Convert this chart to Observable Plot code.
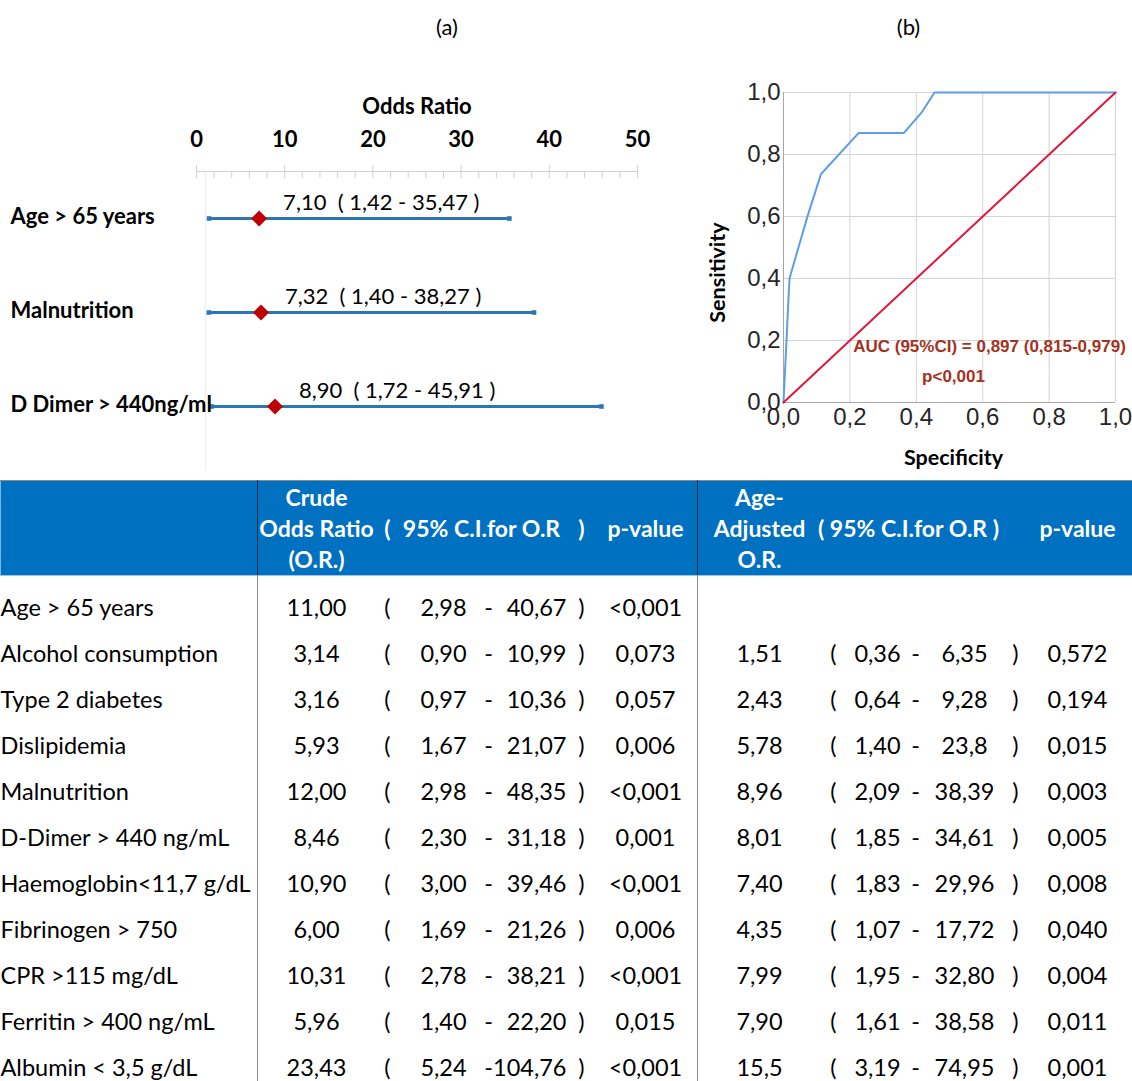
<!DOCTYPE html>
<html><head><meta charset="utf-8">
<script src="https://cdn.jsdelivr.net/npm/d3@7"></script>
<script src="https://cdn.jsdelivr.net/npm/@observablehq/plot@0.6"></script>
<style>
body{margin:0;background:#fff;}
#root{position:relative;width:1132px;height:1081px;overflow:hidden;background:#fff;}
.panel{position:absolute;}
svg text{white-space:pre;}
</style></head><body><div id="root"></div>
<script>
// ---------- DATA ----------
const forestNames = ["Age > 65 years", "Malnutrition", "D Dimer > 440ng/ml"];
const forestOR = [7.10, 7.32, 8.90];
const forestLo = [1.42, 1.40, 1.72];
const forestHi = [35.47, 38.27, 45.91];
const forestTicks = [0, 10, 20, 30, 40, 50];
const forestMinorTicks = [0, 2, 4, 6, 8, 10, 12, 14, 16, 18, 20, 22, 24, 26, 28, 30, 32, 34, 36, 38, 40, 42, 44, 46, 48, 50];
const forestRef = [1];

const rocSpec = [0, 0.018, 0.045, 0.075, 0.113, 0.226, 0.362, 0.417, 0.455, 1];
const rocSens = [0, 0.40, 0.50, 0.61, 0.737, 0.869, 0.869, 0.937, 1, 1];
const rocDiag = [0, 1];
const rocTicks = [0, 0.2, 0.4, 0.6, 0.8, 1];
const aucText = "AUC (95%CI) = 0,897 (0,815-0,979)";
const aucP = "p<0,001";

const tableLabels = ["Age > 65 years", "Alcohol consumption", "Type 2 diabetes", "Dislipidemia", "Malnutrition", "D-Dimer > 440 ng/mL", "Haemoglobin<11,7 g/dL", "Fibrinogen > 750", "CPR >115 mg/dL", "Ferritin > 400 ng/mL", "Albumin < 3,5 g/dL"];
const crudeOR = ["11,00", "3,14", "3,16", "5,93", "12,00", "8,46", "10,90", "6,00", "10,31", "5,96", "23,43"];
const crudeLo = ["2,98", "0,90", "0,97", "1,67", "2,98", "2,30", "3,00", "1,69", "2,78", "1,40", "5,24"];
const crudeHi = ["40,67", "10,99", "10,36", "21,07", "48,35", "31,18", "39,46", "21,26", "38,21", "22,20", "104,76"];
const crudeP = ["<0,001", "0,073", "0,057", "0,006", "<0,001", "0,001", "<0,001", "0,006", "<0,001", "0,015", "<0,001"];
const adjOR = ["", "1,51", "2,43", "5,78", "8,96", "8,01", "7,40", "4,35", "7,99", "7,90", "15,5"];
const adjLo = ["", "0,36", "0,64", "1,40", "2,09", "1,85", "1,83", "1,07", "1,95", "1,61", "3,19"];
const adjHi = ["", "6,35", "9,28", "23,8", "38,39", "34,61", "29,96", "17,72", "32,80", "38,58", "74,95"];
const adjP = ["", "0,572", "0,194", "0,015", "0,003", "0,005", "0,008", "0,040", "0,004", "0,011", "0,001"];

const headerCells = [
  {line: 0, col: "cOR", text: "Crude"},
  {line: 1, col: "cOR", text: "Odds Ratio"},
  {line: 1, col: "cOpen", text: "("},
  {line: 1, col: "cCI", text: "95% C.I.for O.R"},
  {line: 1, col: "cClose", text: ")"},
  {line: 1, col: "cP", text: "p-value"},
  {line: 2, col: "cOR", text: "(O.R.)"},
  {line: 0, col: "aOR", text: "Age-"},
  {line: 1, col: "aOR", text: "Adjusted"},
  {line: 1, col: "aCI", text: "( 95% C.I.for O.R )"},
  {line: 1, col: "aP", text: "p-value"},
  {line: 2, col: "aOR", text: "O.R."}
];

// ---------- LAYOUT / STYLE ----------
const FONT = "Lato, 'Noto Sans', sans-serif";
const ARIAL = "'Liberation Sans', Arial, sans-serif";
const COLX = {label: 0, cOR: 316, cOpen: 387, cLo: 443, cDash: 488, cHi: 566, cClose: 581, cCI: 481, cP: 645,
              aOR: 759, aOpen: 833, aLo: 877, aDash: 915, aHi: 964, aClose: 1015, aCI: 908, aP: 1077};
const SEPS = [257, 697];
const fmt2 = v => v.toFixed(2).replace(".", ",");
const fmt1 = v => v.toFixed(1).replace(".", ",");
const root = document.getElementById("root");
function place(node, left, top) {
  const d = document.createElement("div");
  d.className = "panel"; d.style.left = left + "px"; d.style.top = top + "px";
  d.appendChild(node); root.appendChild(d);
}

// ---------- (a) FOREST PLOT ----------
const forest = forestNames.map((name, i) => ({name, or: forestOR[i], lo: forestLo[i], hi: forestHi[i]}));
const blue = "#2e75b6";
const plotA = Plot.plot({
  width: 700, height: 478,
  marginLeft: 196, marginRight: 63, marginTop: 171, marginBottom: 8,
  x: {domain: [0, 50], label: null},
  y: {type: "point", domain: forestNames, padding: 0.577, align: 0.42, axis: null},
  style: {fontFamily: FONT, fontSize: "22px", color: "#000", background: "transparent", overflow: "visible"},
  marks: [
    Plot.ruleX(forestRef, {stroke: "#ebebeb"}),
    Plot.frame({anchor: "top", stroke: "#d0d0d0"}),
    Plot.axisX({anchor: "top", ticks: forestMinorTicks, tickSize: -6, tickFormat: () => "", stroke: "#d0d0d0", label: null}),
    Plot.axisX({anchor: "top", ticks: forestTicks, tickSize: 7, tickPadding: 18, stroke: "#d0d0d0", fontWeight: "bold", fontSize: 22, label: null}),
    Plot.text(["Odds Ratio"], {frameAnchor: "top", lineAnchor: "middle", dy: -65, fontWeight: "bold", fontSize: 22}),
    Plot.text(["(a)"], {frameAnchor: "top", lineAnchor: "middle", dx: 30, dy: -144, fontSize: 22}),
    Plot.ruleY(forest, {y: "name", x1: "lo", x2: "hi", stroke: blue, strokeWidth: 3}),
    Plot.dot(forest, {y: "name", x: "lo", symbol: "square", r: 2.6, fill: blue}),
    Plot.dot(forest, {y: "name", x: "hi", symbol: "square", r: 2.6, fill: blue}),
    Plot.dot(forest, {y: "name", x: "or", symbol: "diamond2", r: 7.2, fill: "#c00000"}),
    Plot.text(forest, {y: "name", x: "or", text: d => `${fmt2(d.or)}  ( ${fmt2(d.lo)} - ${fmt2(d.hi)} )`, textAnchor: "start", dx: 24, dy: -16, fontSize: 22}),
    Plot.text(forest, {y: "name", text: "name", frameAnchor: "left", textAnchor: "start", dx: -186, dy: -2, fontWeight: "bold", fontSize: 22})
  ]
});
place(plotA, 0, 0);

// ---------- (b) ROC CURVE ----------
const roc = rocSpec.map((x, i) => ({spec: x, sens: rocSens[i]}));
const plotB = Plot.plot({
  width: 432, height: 478,
  marginLeft: 83, marginRight: 17, marginTop: 92, marginBottom: 76,
  x: {domain: [0, 1], label: null},
  y: {domain: [0, 1], label: null},
  style: {fontFamily: ARIAL, fontSize: "24px", color: "#262626", background: "transparent", overflow: "visible"},
  marks: [
    Plot.gridX({ticks: rocTicks, stroke: "#d4d4d4", strokeOpacity: 1}),
    Plot.gridY({ticks: rocTicks, stroke: "#d4d4d4", strokeOpacity: 1}),
    Plot.ruleX([0], {stroke: "#a6a6a6"}),
    Plot.ruleY([0], {stroke: "#a6a6a6"}),
    Plot.axisX({ticks: rocTicks, tickSize: 0, tickPadding: 5, tickFormat: fmt1, label: null, fontSize: 24}),
    Plot.axisY({ticks: rocTicks, tickSize: 0, tickPadding: 3, tickFormat: fmt1, label: null, fontSize: 24}),
    Plot.line(roc, {x: "spec", y: "sens", stroke: "#5f9ce6", strokeWidth: 2}),
    Plot.line(rocDiag, {x: d => d, y: d => d, stroke: "#e3173c", strokeWidth: 2}),
    Plot.text([aucText], {frameAnchor: "bottom", lineAnchor: "middle", dx: 40, dy: -56, fill: "#a5321e", fontWeight: "bold", fontSize: 17, fontFamily: ARIAL}),
    Plot.text([aucP], {frameAnchor: "bottom", lineAnchor: "middle", dx: 4, dy: -26, fill: "#a5321e", fontWeight: "bold", fontSize: 17, fontFamily: ARIAL}),
    Plot.text(["Sensitivity"], {frameAnchor: "left", textAnchor: "middle", lineAnchor: "middle", rotate: -90, dx: -65, dy: 25, fontWeight: "bold", fontSize: 21.5, fontFamily: FONT, fill: "#000"}),
    Plot.text(["Specificity"], {frameAnchor: "bottom", lineAnchor: "middle", dx: 4, dy: 56, fontWeight: "bold", fontSize: 21.5, fontFamily: FONT, fill: "#000"}),
    Plot.text(["(b)"], {frameAnchor: "top", lineAnchor: "middle", dx: -41, dy: -65, fontSize: 22, fontFamily: FONT, fill: "#000"})
  ]
});
place(plotB, 700, 0);

// ---------- TABLE HEADER ----------
const plotH = Plot.plot({
  width: 1132, height: 95,
  marginLeft: 0, marginRight: 0, marginTop: 0, marginBottom: 0,
  x: {domain: [0, 1132], axis: null},
  y: {type: "point", domain: [0, 1, 2], padding: 0, insetTop: 17, insetBottom: 15, axis: null},
  style: {fontFamily: FONT, fontSize: "23px", background: "transparent", overflow: "visible"},
  marks: [
    Plot.frame({fill: "#0070c0", stroke: null}),
    Plot.frame({anchor: "top", stroke: "#8c8c8c"}),
    Plot.frame({anchor: "bottom", stroke: "#9cc3e8"}),
    Plot.ruleX(SEPS, {stroke: "#1f2d3d"}),
    Plot.text(headerCells, {x: d => COLX[d.col], y: "line", text: "text", fill: "#fff", fontWeight: "bold"})
  ]
});
place(plotH, 0, 480);

// ---------- TABLE BODY ----------
const rows = tableLabels.map((label, i) => ({label, cOR: crudeOR[i], cLo: crudeLo[i], cHi: crudeHi[i], cP: crudeP[i],
  aOR: adjOR[i], aLo: adjLo[i], aHi: adjHi[i], aP: adjP[i]}));
const crudeRows = rows.filter(d => d.cOR !== "");
const adjRows = rows.filter(d => d.aOR !== "");
const cell = (data, key, text, anchor = "middle") =>
  Plot.text(data, {x: () => COLX[key], y: "label", text, textAnchor: anchor});
const plotC = Plot.plot({
  width: 1132, height: 520,
  marginLeft: 0, marginRight: 0, marginTop: 8, marginBottom: 1.6,
  x: {domain: [0, 1132], axis: null},
  y: {type: "band", domain: tableLabels, padding: 0, axis: null},
  style: {fontFamily: FONT, fontSize: "23.5px", color: "#000", background: "transparent", overflow: "visible"},
  marks: [
    Plot.ruleX(SEPS, {stroke: "#8c8c8c", insetTop: -8}),
    cell(rows, "label", "label", "start"),
    cell(crudeRows, "cOR", "cOR"),
    cell(crudeRows, "cOpen", () => "("),
    cell(crudeRows, "cLo", "cLo"),
    cell(crudeRows, "cDash", () => "-"),
    cell(crudeRows, "cHi", "cHi", "end"),
    cell(crudeRows, "cClose", () => ")"),
    cell(crudeRows, "cP", "cP"),
    cell(adjRows, "aOR", "aOR"),
    cell(adjRows, "aOpen", () => "("),
    cell(adjRows, "aLo", "aLo"),
    cell(adjRows, "aDash", () => "-"),
    cell(adjRows, "aHi", "aHi"),
    cell(adjRows, "aClose", () => ")"),
    cell(adjRows, "aP", "aP")
  ]
});
place(plotC, 0, 575);
</script></body></html>
